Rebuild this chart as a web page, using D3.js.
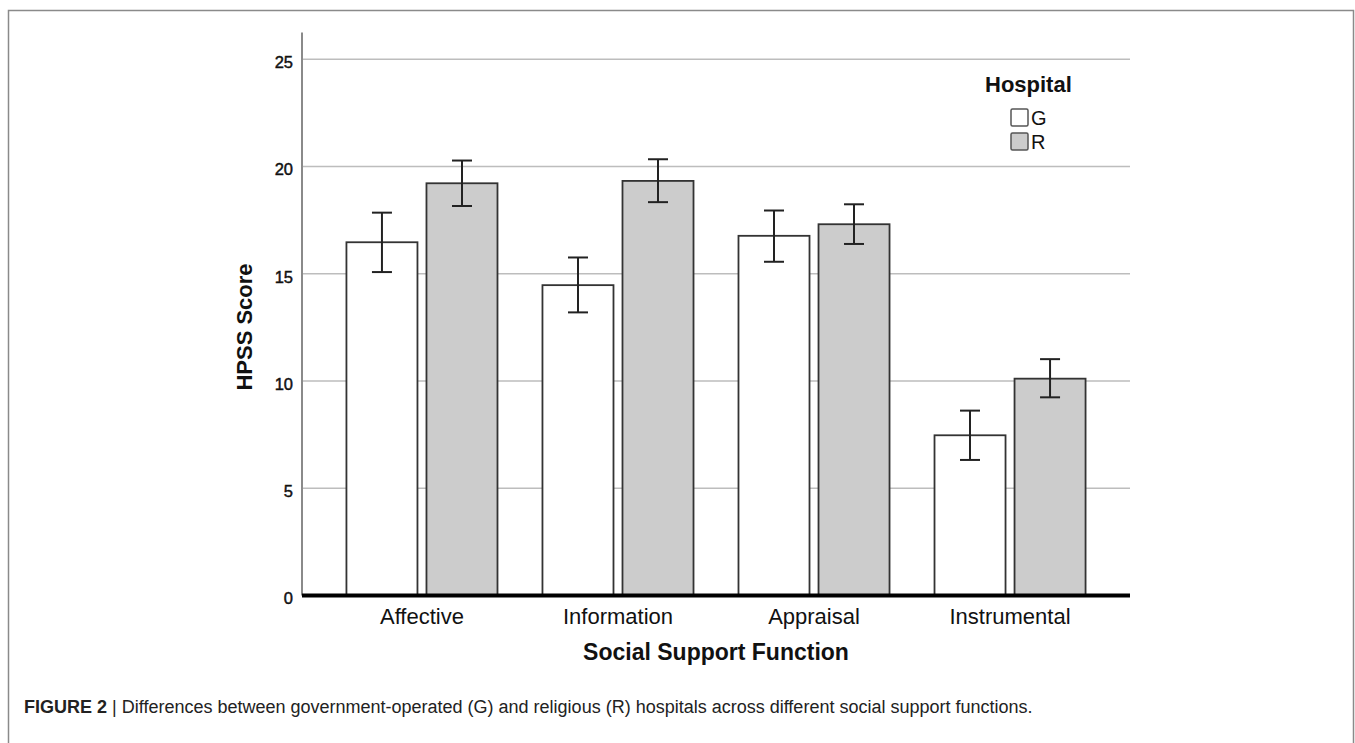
<!DOCTYPE html>
<html>
<head>
<meta charset="utf-8">
<script src="https://cdn.jsdelivr.net/npm/d3@7"></script>
<style>
  html, body { margin: 0; padding: 0; background: #fff; }
  svg { display: block; font-family: "Liberation Sans", Arial, sans-serif; }
</style>
</head>
<body>
<svg id="chart" width="1355" height="743"></svg>
<script>
// Social support functions and hospital types
const categories = ["Affective", "Information", "Appraisal", "Instrumental"];
const groups = ["G", "R"];

// Mean HPSS scores per hospital type
const meansG = [16.47, 14.47, 16.77, 7.47];
const meansR = [19.22, 19.33, 17.31, 10.11];

// Error bar limits
const lowerG = [15.08, 13.20, 15.56, 6.32];
const upperG = [17.85, 15.76, 17.95, 8.62];
const lowerR = [18.16, 18.34, 16.39, 9.24];
const upperR = [20.28, 20.34, 18.24, 11.02];

const yTicks = [0, 5, 10, 15, 20, 25];

const fills = { G: "#ffffff", R: "#cccccc" };

const rows = categories.map((c, i) => ({
  category: c,
  values: [
    { group: "G", mean: meansG[i], lo: lowerG[i], hi: upperG[i] },
    { group: "R", mean: meansR[i], lo: lowerR[i], hi: upperR[i] }
  ]
}));

const svg = d3.select("#chart");

const plotLeft = 302, plotRight = 1130;

const y = d3.scaleLinear().domain([0, 25]).range([595.5, 59.3]);
const x0 = d3.scaleBand().domain(categories).range([plotLeft, plotRight])
  .paddingInner(0).paddingOuter(0.112);
const x1 = d3.scaleBand().domain(groups).range([0, x0.bandwidth()])
  .paddingInner(0.1125).paddingOuter(0.281);

// Outer frame (left, top, right)
svg.append("path")
  .attr("d", `M8.5,743 V10.5 H1353.5 V743`)
  .attr("fill", "none")
  .attr("stroke", "#8a8a8a")
  .attr("stroke-width", 1.5);

// Horizontal grid lines
svg.append("g")
  .selectAll("line")
  .data(yTicks.filter(d => d > 0))
  .join("line")
  .attr("x1", plotLeft)
  .attr("x2", plotRight)
  .attr("y1", d => y(d))
  .attr("y2", d => y(d))
  .attr("stroke", "#bdbdbd")
  .attr("stroke-width", 1.5);

// Y axis line
svg.append("line")
  .attr("x1", plotLeft).attr("x2", plotLeft)
  .attr("y1", y(26.25)).attr("y2", y(0))
  .attr("stroke", "#8a8a8a")
  .attr("stroke-width", 2);

// Y tick labels
const yAxis = svg.append("g")
  .attr("transform", `translate(${plotLeft - 7},3)`)
  .call(d3.axisLeft(y).tickValues(yTicks).tickSize(0).tickPadding(2).tickFormat(d3.format("d")));
yAxis.select(".domain").remove();
yAxis.selectAll("text")
  .attr("fill", "#111")
  .attr("stroke", "#111")
  .attr("stroke-width", 0.45)
  .style("font-size", "16.5px")
  .style("font-family", "'Liberation Sans', Arial, sans-serif");

// Bars
const cat = svg.append("g")
  .selectAll("g")
  .data(rows)
  .join("g")
  .attr("transform", d => `translate(${x0(d.category)},0)`);

cat.selectAll("rect")
  .data(d => d.values)
  .join("rect")
  .attr("x", d => x1(d.group))
  .attr("y", d => y(d.mean))
  .attr("width", x1.bandwidth())
  .attr("height", d => y(0) - y(d.mean))
  .attr("fill", d => fills[d.group])
  .attr("stroke", "#333")
  .attr("stroke-width", 1.8);

// Error bars
const capHalf = 10;
const err = cat.selectAll("g.err")
  .data(d => d.values)
  .join("g")
  .attr("class", "err")
  .attr("transform", d => `translate(${x1(d.group) + x1.bandwidth() / 2},0)`)
  .attr("stroke", "#222")
  .attr("stroke-width", 2);
err.append("line").attr("x1", 0).attr("x2", 0)
  .attr("y1", d => y(d.lo)).attr("y2", d => y(d.hi));
err.append("line").attr("x1", -capHalf).attr("x2", capHalf)
  .attr("y1", d => y(d.hi)).attr("y2", d => y(d.hi));
err.append("line").attr("x1", -capHalf).attr("x2", capHalf)
  .attr("y1", d => y(d.lo)).attr("y2", d => y(d.lo));

// Baseline
svg.append("line")
  .attr("x1", plotLeft).attr("x2", plotRight)
  .attr("y1", y(0)).attr("y2", y(0))
  .attr("stroke", "#000")
  .attr("stroke-width", 4);

// Category labels
const xAxis = svg.append("g")
  .attr("transform", `translate(0,${y(0)})`)
  .call(d3.axisBottom(x0).tickSize(0).tickPadding(13));
xAxis.select(".domain").remove();
xAxis.selectAll("text")
  .attr("fill", "#111")
  .style("font-size", "22px")
  .style("font-family", "'Liberation Sans', Arial, sans-serif");

// Axis titles
svg.append("text")
  .attr("x", (plotLeft + plotRight) / 2)
  .attr("y", 660)
  .attr("text-anchor", "middle")
  .attr("font-size", 23)
  .attr("font-weight", "bold")
  .attr("fill", "#111")
  .text("Social Support Function");

svg.append("text")
  .attr("transform", `translate(252,327) rotate(-90)`)
  .attr("text-anchor", "middle")
  .attr("font-size", 22)
  .attr("font-weight", "bold")
  .attr("fill", "#111")
  .text("HPSS Score");

// Legend
const legend = svg.append("g");
legend.append("text")
  .attr("x", 985).attr("y", 92)
  .attr("font-size", 22)
  .attr("font-weight", "bold")
  .attr("fill", "#111")
  .text("Hospital");
const li = legend.selectAll("g.item")
  .data(groups)
  .join("g")
  .attr("class", "item")
  .attr("transform", (d, i) => `translate(1011,${109 + i * 24})`);
li.append("rect")
  .attr("width", 17).attr("height", 17)
  .attr("rx", 1.5)
  .attr("fill", d => fills[d])
  .attr("stroke", "#555")
  .attr("stroke-width", 1.5);
li.append("text")
  .attr("x", 20).attr("y", 16)
  .attr("font-size", 20)
  .attr("fill", "#111")
  .text(d => d);

// Caption
const cap = svg.append("text")
  .attr("x", 24).attr("y", 713)
  .attr("font-size", 18)
  .attr("fill", "#222");
cap.append("tspan").attr("font-weight", "bold").text("FIGURE 2");
cap.append("tspan").text("  |  ");
cap.append("tspan").text("Differences between government-operated (G) and religious (R) hospitals across different social support functions.");
</script>
</body>
</html>
